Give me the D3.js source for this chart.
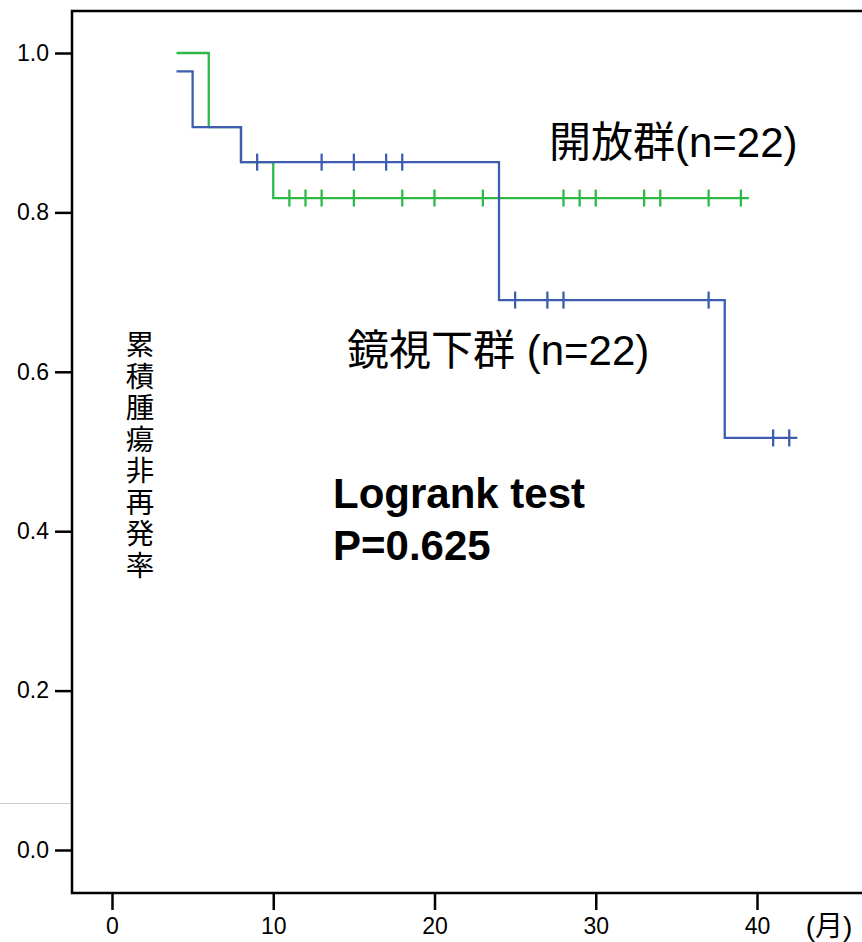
<!DOCTYPE html>
<html><head><meta charset="utf-8">
<script src="https://cdn.jsdelivr.net/npm/d3@7"></script>
<style>html,body{margin:0;padding:0;background:#fff;}svg{display:block;}</style>
</head><body>
<script>
// ---- data ----
const xTicks = [0, 10, 20, 30, 40];
const yTicks = [0.0, 0.2, 0.4, 0.6, 0.8, 1.0];
// 鏡視下群 (blue): step times and survival after each step
const blueTimes = [4, 5, 8, 24, 38, 42.5];
const blueSurv  = [0.977, 0.907, 0.863, 0.690, 0.517, 0.517];
const blueCensor = [9, 13, 15, 17, 18, 25, 27, 28, 37, 41, 42];
// 開放群 (green)
const greenTimes = [4, 6, 8, 10, 39.5];
const greenSurv  = [1.0, 0.907, 0.863, 0.818, 0.818];
const greenCensor = [11, 12, 13, 15, 18, 20, 23, 28, 29, 30, 33, 34, 37, 39];
const yLabel = "累積腫瘍非再発率";

const W = 862, H = 942;
const svg = d3.select("body").append("svg").attr("width", W).attr("height", H);
const x = d3.scaleLinear().domain([0, 40]).range([112, 757]);
const y = d3.scaleLinear().domain([0, 1]).range([850, 53]);
const blue = "#3f5db0", green = "#2eb84a";
const numFont = "'Liberation Sans Narrow','Liberation Sans',Arial,sans-serif";
const cjk = "'Noto Sans CJK JP','Noto Sans CJK SC',sans-serif";
const mixed = "'Liberation Sans',Arial,'Noto Sans CJK JP',sans-serif";

// faint stray line
svg.append("line").attr("x1", 0).attr("x2", 72).attr("y1", 803.5).attr("y2", 803.5)
  .attr("stroke", "#c8cfd6").attr("stroke-width", 1);

// frame
const frameL = 72, frameT = 11, frameB = 893;
svg.append("path").attr("d", `M${W},${frameT}H${frameL}V${frameB}H${W}`)
  .attr("fill", "none").attr("stroke", "#000").attr("stroke-width", 2.5);

// y axis ticks
const yAxis = d3.axisLeft(y).tickValues(yTicks).tickFormat(d3.format(".1f")).tickSize(17).tickPadding(6);
const gy = svg.append("g").attr("transform", `translate(${frameL},0)`).call(yAxis);
gy.select(".domain").remove();
gy.selectAll(".tick line").attr("stroke", "#000").attr("stroke-width", 2.5);
gy.selectAll(".tick text").attr("font-family", numFont).attr("font-size", 23).attr("fill", "#000");

// x axis ticks
const xAxis = d3.axisBottom(x).tickValues(xTicks).tickFormat(d3.format("d")).tickSize(17).tickPadding(8);
const gx = svg.append("g").attr("transform", `translate(0,${frameB})`).call(xAxis);
gx.select(".domain").remove();
gx.selectAll(".tick line").attr("stroke", "#000").attr("stroke-width", 2.5);
gx.selectAll(".tick text").attr("font-family", numFont).attr("font-size", 23).attr("fill", "#000");

svg.append("text").attr("x", 829).attr("y", 936).attr("text-anchor", "middle")
  .attr("font-family", mixed).attr("font-size", 28).text("(月)");

// curves
const line = d3.line().x(d => x(d[0])).y(d => y(d[1])).curve(d3.curveStepAfter);
function drawSeries(times, surv, censor, color) {
  const pts = times.map((t, i) => [t, surv[i]]);
  svg.append("path").attr("d", line(pts)).attr("fill", "none")
    .attr("stroke", color).attr("stroke-width", 2.3);
  const survAt = t => { let s = surv[0]; times.forEach((tt, i) => { if (tt <= t) s = surv[i]; }); return s; };
  svg.append("g").selectAll("line").data(censor).join("line")
    .attr("x1", d => x(d)).attr("x2", d => x(d))
    .attr("y1", d => y(survAt(d)) - 8.5).attr("y2", d => y(survAt(d)) + 8.5)
    .attr("stroke", color).attr("stroke-width", 2.3);
}
drawSeries(greenTimes, greenSurv, greenCensor, green);
drawSeries(blueTimes, blueSurv, blueCensor, blue);

// legends
svg.append("text").attr("x", 549).attr("y", 157).attr("font-family", mixed)
  .attr("font-size", 42).attr("fill", "#000").text("開放群(n=22)");
svg.append("text").attr("x", 347).attr("y", 365).attr("font-family", mixed)
  .attr("font-size", 42).attr("fill", "#000").text("鏡視下群 (n=22)");

// logrank
svg.append("text").attr("x", 333).attr("y", 508).attr("font-family", "'Liberation Sans',Arial,sans-serif")
  .attr("font-weight", "bold").attr("font-size", 42).text("Logrank test");
svg.append("text").attr("x", 333).attr("y", 560).attr("font-family", "'Liberation Sans',Arial,sans-serif")
  .attr("font-weight", "bold").attr("font-size", 42).text("P=0.625");

// vertical y label
svg.append("text").attr("x", 140).attr("y", 330)
  .style("writing-mode", "vertical-rl").style("text-orientation", "upright")
  .attr("font-family", cjk).attr("font-size", 28.5).attr("letter-spacing", 3)
  .attr("fill", "#000").text(yLabel);
</script>
</body></html>
